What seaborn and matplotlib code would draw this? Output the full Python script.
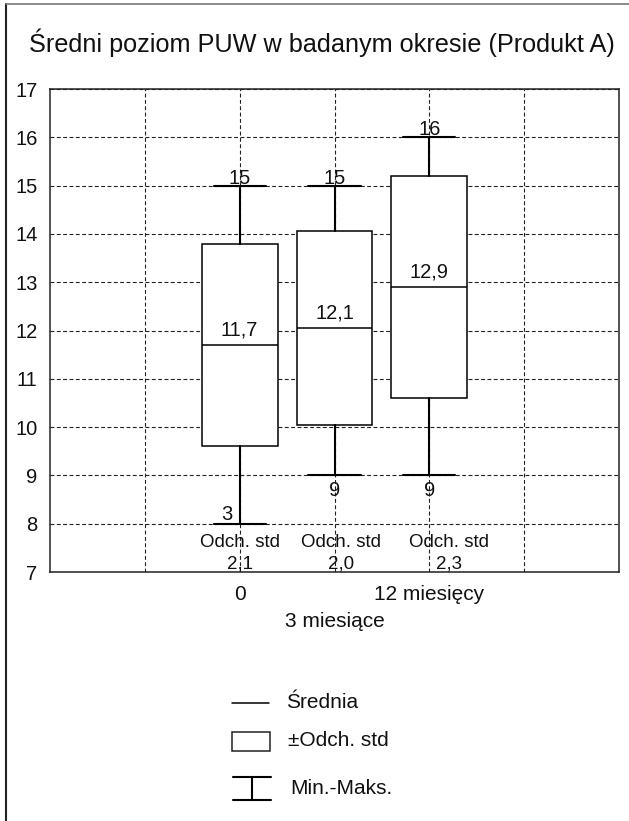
import matplotlib
matplotlib.use("Agg")
import matplotlib.pyplot as plt
import seaborn as sns
import numpy as np

# ---- data ----
categories = ["0", "3 miesiące", "12 miesięcy"]
means = [11.7, 12.05, 12.9]
stds = [2.1, 2.0, 2.3]
mins = [8, 9, 9]
maxs = [15, 15, 16]
mean_labels = ["11,7", "12,1", "12,9"]
std_labels = ["2,1", "2,0", "2,3"]
min_labels = ["3", "9", "9"]
max_labels = ["15", "15", "16"]
y_ticks = list(range(7, 18))
title = "Średni poziom PUW w badanym okresie (Produkt A)"
legend_labels = ["Średnia", "±Odch. std", "Min.-Maks."]
std_caption = "Odch. std"

sns.set_theme(style="white")
plt.rcParams["font.family"] = ["Liberation Sans", "DejaVu Sans"]
plt.rcParams["text.color"] = "#111111"

W, H = 629, 821
fig = plt.figure(figsize=(W / 100, H / 100), dpi=100)
fig.patch.set_facecolor("white")


def px(x0, y0, x1, y1):
    return [x0 / W, 1 - y1 / H, (x1 - x0) / W, (y1 - y0) / H]


# overlay axes in pixel coordinates (frame + legend)
lax = fig.add_axes([0, 0, 1, 1], zorder=0)
lax.set_xlim(0, W)
lax.set_ylim(H, 0)
lax.set_axis_off()

ax = fig.add_axes(px(50, 89, 619, 572), zorder=1)
positions = np.arange(len(categories))

stats = [
    dict(med=m, q1=m - s, q3=m + s, whislo=lo, whishi=hi, fliers=[], label=c)
    for c, m, s, lo, hi in zip(categories, means, stds, mins, maxs)
]
ax.bxp(
    stats,
    positions=positions,
    widths=0.8,
    capwidths=0.55,
    patch_artist=True,
    showfliers=False,
    manage_ticks=False,
    boxprops=dict(facecolor="white", edgecolor="black", linewidth=1.1),
    medianprops=dict(color="black", linewidth=1.1),
    whiskerprops=dict(color="black", linewidth=1.5),
    capprops=dict(color="black", linewidth=1.5),
    zorder=3,
)

ax.set_xlim(-2, 4)
ax.set_ylim(7, 17)
ax.set_yticks(y_ticks)
ax.set_yticklabels([str(t) for t in y_ticks], fontsize=14.5)
grid_x = [-1] + list(positions) + [3]
ax.set_xticks(grid_x)
xlabels = [""] + [c if i % 2 == 0 else "\n" + c for i, c in enumerate(categories)] + [""]
ax.set_xticklabels(xlabels, fontsize=15)
for lbl in ax.get_xticklabels():
    lbl.set_linespacing(1.55)
ax.tick_params(axis="both", length=0, colors="#111111")
ax.tick_params(axis="x", pad=9)
ax.tick_params(axis="y", pad=9)
ax.grid(True, color="#222222", linewidth=0.8, linestyle=(0, (3.5, 2.2)), zorder=1)
ax.set_axisbelow(True)
for sp in ax.spines.values():
    sp.set_visible(True)
    sp.set_color("#222222")
    sp.set_linewidth(1.1)
    sp.set_zorder(4)
ax.set_facecolor("white")

# value annotations
for i, x in enumerate(positions):
    ax.annotate(max_labels[i], (x, maxs[i]), xytext=(0, 1.5), textcoords="offset points",
                ha="center", va="baseline", fontsize=14.5, zorder=5)
    ax.annotate(mean_labels[i], (x, means[i]), xytext=(0, 7), textcoords="offset points",
                ha="center", va="baseline", fontsize=14.5, zorder=5)
    if i == 0:
        ax.annotate(min_labels[i], (x, mins[i]), xytext=(-5, 3), textcoords="offset points",
                    ha="right", va="baseline", fontsize=14.5, zorder=5)
    else:
        ax.annotate(min_labels[i], (x, mins[i]), xytext=(0, -4), textcoords="offset points",
                    ha="center", va="top", fontsize=14.5, zorder=5)

std_dx = [0.0, 0.065, 0.21]
for i, x in enumerate(positions):
    ax.text(x + std_dx[i], 7.52, std_caption, ha="center", va="baseline", fontsize=13.5, zorder=5)
    ax.text(x + std_dx[i], 7.08, std_labels[i], ha="center", va="baseline", fontsize=13.5, zorder=5)

# title
fig.text(322 / W, 1 - 43 / H, title, ha="center", va="center", fontsize=18.2)

# outer frame (left and top only)
lax.plot([6, 6], [4, H], color="#222222", linewidth=1.5)
lax.plot([6, W], [4, 4], color="#777777", linewidth=1.2)

# legend
lax.plot([232, 269], [703, 703], color="black", linewidth=1.1)
lax.add_patch(plt.Rectangle((232, 732), 38, 19, fill=False, edgecolor="#222222", linewidth=1.1))
lax.plot([233, 271], [777, 777], color="black", linewidth=1.5)
lax.plot([233, 271], [800, 800], color="black", linewidth=1.5)
lax.plot([252, 252], [777, 800], color="black", linewidth=1.5)
lax.text(286, 703, legend_labels[0], ha="left", va="center", fontsize=15)
lax.text(288, 741, legend_labels[1], ha="left", va="center", fontsize=15)
lax.text(290, 788, legend_labels[2], ha="left", va="center", fontsize=15)

fig.savefig("out.png", dpi=100)
